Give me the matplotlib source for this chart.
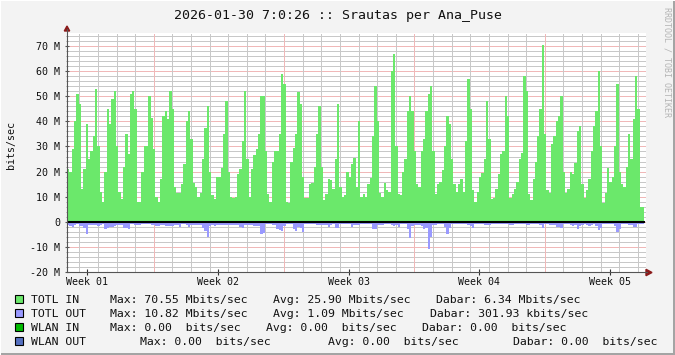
import numpy as np
import matplotlib.pyplot as plt
from matplotlib.patches import Rectangle, Polygon
from matplotlib.transforms import blended_transform_factory

plt.rcParams['font.family'] = ['DejaVu Sans Mono']

title = '2026-01-30 7:0:26 :: Srautas per Ana_Puse'
y_label = 'bits/sec'
credit = 'RRDTOOL / TOBI OETIKER'

# Mbit/s, one value every 3 hours (one row = one day)
totl_in = [
    21, 20, 29, 40, 51, 47, 13, 21,
    39, 25, 28, 34, 53, 30, 12, 8,
    20, 45, 39, 49, 52, 30, 12, 9,
    22, 35, 27, 51, 52, 45, 8, 8,
    20, 30, 30, 50, 41.5, 29, 10, 8,
    17, 42, 44, 41, 52, 45, 14, 11.5,
    11.5, 15, 23, 40, 44, 33, 15.5, 14,
    10, 11.5, 25, 37.5, 46, 20, 10.5, 9,
    18, 18, 21.5, 35, 48, 20, 10, 9.5,
    10, 19, 21, 32, 52, 25, 10, 21,
    26.5, 29, 35, 50, 50, 28, 11, 8,
    24, 28, 28, 35, 59, 55, 8, 7.5,
    24, 29.5, 35, 51.5, 47, 18, 9.5, 9.5,
    15, 15.5, 22, 35, 46, 22, 8.5, 11,
    17, 16.5, 13, 25, 47, 14, 10, 10.5,
    20, 18, 23, 25.5, 14, 40, 10, 11,
    10, 15, 17.5, 34, 54, 40, 11.5, 10,
    15.5, 12.5, 12, 60, 67, 30, 11, 10.5,
    20, 25, 44, 50, 44, 28, 15, 14,
    28, 33, 44, 51, 54, 28, 11, 15,
    16, 20.5, 30, 42, 39, 25, 15, 12,
    15, 17, 12, 32, 57, 45, 12.8, 8,
    12, 18, 19.5, 25, 48, 33, 9, 9.5,
    13, 19, 27, 28, 50, 42, 9.5, 11,
    13, 15.8, 25, 27.5, 58, 52, 11, 8.5,
    17, 24, 34, 45, 70.5, 35, 12.5, 11.5,
    31, 34, 40, 42, 50, 20, 11.5, 13,
    20, 19, 23.5, 36, 38, 15, 9.5, 12.8,
    17, 28, 38, 44, 60, 30, 7.5, 11.5,
    21.5, 16, 18, 30, 55, 20, 15, 14,
    22, 35, 25, 41, 58, 45, 6, 6,
]

totl_out = [
    -1.2, -1.6, -1.9, -1.2, -1.0, -1.5, -1.8, -2.5,
    -5.0, -1.2, -1.2, -1.2, -1.2, -1.5, -1.1, -1.0,
    -2.8, -2.5, -1.9, -2.1, -1.5, -1.2, -1.2, -1.2,
    -2.5, -2.5, -2.8, -1.0, -1.0, -1.4, -1.2, -1.2,
    -1.0, -1.0, -1.0, -1.0, -1.1, -1.3, -1.6, -1.6,
    -1.3, -1.3, -1.6, -1.6, -1.6, -1.6, -1.2, -1.2,
    -2.1, -0.8, -1.0, -1.3, -1.9, -1.4, -1.2, -1.2,
    -1.2, -1.2, -2.5, -3.6, -5.9, -1.8, -1.2, -1.6,
    -1.4, -1.2, -1.2, -1.2, -1.2, -1.2, -1.2, -1.2,
    -1.2, -1.2, -2.0, -2.6, -1.1, -1.1, -1.1, -1.1,
    -1.5, -1.6, -1.6, -4.8, -4.5, -0.8, -0.8, -0.8,
    -1.2, -1.2, -3.0, -3.2, -3.7, -1.5, -0.8, -0.8,
    -0.8, -3.0, -3.6, -2.1, -2.5, -3.9, -0.8, -0.8,
    -0.8, -0.8, -1.0, -1.2, -1.2, -1.2, -1.1, -1.1,
    -1.9, -1.2, -0.8, -2.3, -2.3, -0.8, -0.8, -0.8,
    -0.8, -0.8, -2.1, -1.3, -1.3, -1.3, -1.0, -1.0,
    -1.0, -1.0, -1.0, -3.0, -2.7, -1.2, -1.2, -1.2,
    -1.0, -1.0, -1.0, -1.2, -1.8, -1.2, -2.1, -1.0,
    -1.0, -1.0, -3.0, -6.5, -1.6, -1.2, -1.2, -1.2,
    -1.5, -2.7, -2.5, -10.8, -5.9, -1.2, -1.2, -1.0,
    -1.0, -1.0, -2.0, -4.8, -2.5, -0.8, -0.8, -1.0,
    -0.8, -0.8, -0.8, -0.8, -1.4, -1.8, -2.3, -0.8,
    -0.8, -0.8, -0.8, -1.2, -1.2, -1.2, -0.8, -0.8,
    -1.0, -1.0, -1.0, -1.0, -1.0, -1.0, -1.2, -1.2,
    -1.0, -0.8, -0.8, -0.8, -0.8, -1.2, -1.2, -1.0,
    -1.0, -1.0, -1.0, -1.4, -2.5, -1.0, -1.0, -1.1,
    -1.1, -1.1, -1.9, -2.2, -2.3, -0.8, -0.8, -0.8,
    -1.4, -1.6, -1.2, -2.7, -1.6, -1.4, -1.0, -1.1,
    -1.5, -1.2, -0.8, -1.5, -3.2, -2.5, -0.8, -0.8,
    -0.8, -1.0, -1.0, -1.6, -3.9, -2.8, -0.8, -0.8,
    -0.8, -1.2, -1.2, -1.9, -1.9, -1.0, -1.0, -1.0,
]

week_labels = ['Week 01', 'Week 02', 'Week 03', 'Week 04', 'Week 05']

legend_names = ['TOTL IN', 'TOTL OUT', 'WLAN IN', 'WLAN OUT']
legend_max = ['Max: 70.55 Mbits/sec', 'Max: 10.82 Mbits/sec',
              'Max: 0.00  bits/sec', 'Max: 0.00  bits/sec']
legend_avg = ['Avg: 25.90 Mbits/sec', 'Avg: 1.09 Mbits/sec',
              'Avg: 0.00  bits/sec', 'Avg: 0.00  bits/sec']
legend_last = ['Dabar: 6.34 Mbits/sec', 'Dabar: 301.93 kbits/sec',
               'Dabar: 0.00  bits/sec', 'Dabar: 0.00  bits/sec']

# --- layout (pixels of a 675x355 canvas) ---
W, H = 675, 355
PX_L, PX_R, PX_T, PX_B = 67, 646, 33, 272
green = '#6be86b'
blue = '#9999ff'
legend_colors = [green, blue, '#00bb00', '#5570c0']

fig = plt.figure(figsize=(W / 100, H / 100), dpi=100, facecolor='#f3f3f3')
ax = fig.add_axes([PX_L / W, 1 - PX_B / H, (PX_R - PX_L) / W, (PX_B - PX_T) / H])
ax.set_facecolor('white')

px_per_day = 18.62
ax.set_xlim(0, (PX_R - PX_L) / px_per_day)
ax.set_ylim(-20, 75.2)

# grid (rrdtool style dotted lines)
dots = (0, (1, 1))
for v in range(-20, 76, 2):
    col = '#f0b8b8' if v % 10 == 0 else '#c8c8c8'
    ax.axhline(v, color=col, lw=0.72, ls=dots, zorder=1, antialiased=False)
for k in range(31):
    col = '#f0b8b8' if k % 7 == 4 else '#c8c8c8'
    ax.axvline(0.66 + k, color=col, lw=0.72, ls=dots, zorder=1, antialiased=False)

# data
edges = np.arange(len(totl_in) + 1) / 8
ax.stairs(totl_in, edges, baseline=0, fill=True, color=green, lw=0, zorder=3)
ax.stairs(totl_out, edges, baseline=0, fill=True, color=blue, lw=0, zorder=3)
ax.plot([0, edges[-1]], [0, 0], color='black', lw=1.5, zorder=4)

for s in ax.spines.values():
    s.set_visible(False)

# y ticks
yt = list(range(-20, 71, 10))
ax.set_yticks(yt)
ax.set_yticklabels([f'{v} M' if v else '0' for v in yt])
ax.set_yticks(range(-20, 75, 2), minor=True)
ax.tick_params(axis='y', which='major', length=3, direction='inout',
               color='#555555', labelsize=7.2, pad=3.3, labelcolor='#111111')
ax.tick_params(axis='y', which='minor', length=2, direction='inout', color='#888888')

# x ticks (week labels drawn separately)
week_pos = [1.1 + 7.01 * k for k in range(len(week_labels))]
ax.set_xticks(week_pos)
ax.set_xticklabels([])
ax.tick_params(axis='x', length=4, direction='inout', color='#333333')
trans = blended_transform_factory(ax.transData, fig.transFigure)
for p, lab in zip(week_pos, week_labels):
    fig.text(p, 1 - 285 / H, lab, transform=trans, ha='center', va='baseline',
             fontsize=7.2, color='#111111')

# overlay in pixel coordinates
ov = fig.add_axes([0, 0, 1, 1], zorder=5)
ov.set_xlim(0, W)
ov.set_ylim(H, 0)
ov.axis('off')
ov.patch.set_visible(False)

ov.plot([PX_L, PX_L], [PX_B, 29], color='#555555', lw=0.8)
ov.plot([PX_L, 647], [PX_B, PX_B], color='#555555', lw=0.8)
ov.add_patch(Polygon([(64.3, 31), (69.7, 31), (67, 26)], closed=True, color='#8b1a1a'))
ov.add_patch(Polygon([(646, 269.3), (646, 275.7), (652, 272.5)], closed=True, color='#8b1a1a'))

# frame
ov.add_patch(Rectangle((0, H - 2.5), W, 2.5, color='#a4a4a4', lw=0))
ov.add_patch(Rectangle((W - 2.5, 0), 2.5, H, color='#a4a4a4', lw=0))
ov.add_patch(Rectangle((0, 0), W, 1.2, color='#ffffff', lw=0))
ov.add_patch(Rectangle((0, 0), 1.2, H, color='#ffffff', lw=0))

ov.text(338, 18.5, title, ha='center', va='baseline', fontsize=9.5, color='#111111')
ov.text(11, 145, y_label, ha='center', va='center', rotation=90, fontsize=7.2,
        color='#111111')
ov.text(666.5, 7, credit, ha='center', va='top', rotation=270, fontsize=6,
        color='#b4b4b4')

# legend
rows_y = [299.3, 313.3, 327.3, 341.3]
max_x = [110, 110, 110, 140]
avg_x = [272.8, 272.8, 266.4, 327.6]
last_x = [436.2, 429.7, 421.6, 513]
for i, y in enumerate(rows_y):
    ov.add_patch(Rectangle((15.3, y - 4), 7.4, 8, facecolor=legend_colors[i],
                           edgecolor='black', lw=0.8))
    base = y + 4.1
    ov.text(30.7, base, legend_names[i], va='baseline', fontsize=8.25, color='#111111')
    ov.text(max_x[i], base, legend_max[i], va='baseline', fontsize=8.25, color='#111111')
    ov.text(avg_x[i], base, legend_avg[i], va='baseline', fontsize=8.25, color='#111111')
    ov.text(last_x[i], base, legend_last[i], va='baseline', fontsize=8.25, color='#111111')

fig.savefig('out.png', dpi=100, facecolor=fig.get_facecolor())
